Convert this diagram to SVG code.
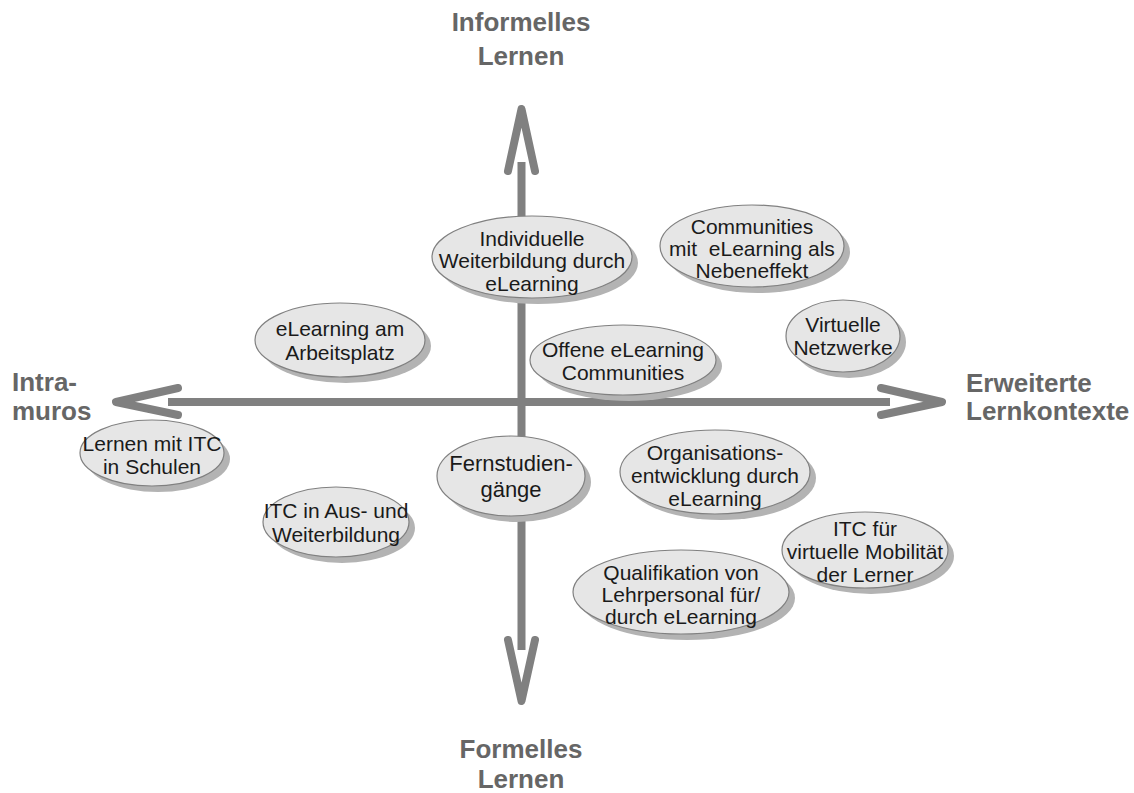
<svg xmlns="http://www.w3.org/2000/svg" width="1134" height="793" viewBox="0 0 1134 793">
  <style>
    .axis { stroke: #808080; stroke-width: 8; fill: none; }
    .head { stroke: #808080; stroke-width: 8; fill: none; stroke-linecap: round; stroke-linejoin: round; }
    .shadow { fill: #b3b3b3; }
    .bubble { fill: #e6e6e6; stroke: #808080; stroke-width: 1.2; }
    .lbl { font-family: "Liberation Sans", Arial, sans-serif; font-size: 21px; fill: #1a1a1a; text-anchor: middle; }
    .ax { font-family: "Liberation Sans", Arial, sans-serif; font-size: 26px; font-weight: bold; fill: #666666; }
  </style>
  <rect width="1134" height="793" fill="#ffffff"/>

  <!-- axes with open chevron heads -->
  <g id="connectors">
    <line class="axis" x1="521.5" y1="162" x2="521.5" y2="650"/>
    <line class="axis" x1="168" y1="402" x2="890" y2="402"/>
    <polyline class="head" points="508,171 521.5,109 535,171"/>
    <polyline class="head" points="508,640 521.5,701 535,640"/>
    <polyline class="head" points="178,388 116,402 178,415"/>
    <polyline class="head" points="881,388 942,402 881,415"/>
  </g>

  <!-- axis captions -->
  <g id="axis-labels">
    <text class="ax" text-anchor="middle" x="521" y="31">Informelles</text>
    <text class="ax" text-anchor="middle" x="521" y="65">Lernen</text>
    <text class="ax" text-anchor="middle" x="521" y="758">Formelles</text>
    <text class="ax" text-anchor="middle" x="521" y="788">Lernen</text>
    <text class="ax" x="12" y="391">Intra-</text>
    <text class="ax" x="12" y="420">muros</text>
    <text class="ax" x="966" y="392">Erweiterte</text>
    <text class="ax" x="966" y="420">Lernkontexte</text>
  </g>

  <g id="individuelle-weiterbildung">
    <ellipse class="shadow" cx="538" cy="263" rx="100" ry="41"/>
    <ellipse class="bubble" cx="532" cy="257" rx="100" ry="41"/>
    <text class="lbl"><tspan x="532" y="246">Individuelle</tspan><tspan x="532" y="268">Weiterbildung durch</tspan><tspan x="532" y="291">eLearning</tspan></text>
  </g>

  <g id="communities-nebeneffekt">
    <ellipse class="shadow" cx="758" cy="252" rx="92" ry="41"/>
    <ellipse class="bubble" cx="752" cy="246" rx="92" ry="41"/>
    <text class="lbl"><tspan x="752" y="234">Communities</tspan><tspan x="752" y="256">mit&#160; eLearning als</tspan><tspan x="752" y="278">Nebeneffekt</tspan></text>
  </g>

  <g id="elearning-arbeitsplatz">
    <ellipse class="shadow" cx="346" cy="346" rx="85" ry="37"/>
    <ellipse class="bubble" cx="340" cy="340" rx="85" ry="37"/>
    <text class="lbl"><tspan x="340" y="336">eLearning am</tspan><tspan x="340" y="360">Arbeitsplatz</tspan></text>
  </g>

  <g id="offene-communities">
    <ellipse class="shadow" cx="629" cy="366" rx="93" ry="35"/>
    <ellipse class="bubble" cx="623" cy="360" rx="93" ry="35"/>
    <text class="lbl"><tspan x="623" y="357">Offene eLearning</tspan><tspan x="623" y="380">Communities</tspan></text>
  </g>

  <g id="virtuelle-netzwerke">
    <ellipse class="shadow" cx="849" cy="342" rx="57" ry="36"/>
    <ellipse class="bubble" cx="843" cy="336" rx="57" ry="36"/>
    <text class="lbl"><tspan x="843" y="332">Virtuelle</tspan><tspan x="843" y="355">Netzwerke</tspan></text>
  </g>

  <g id="lernen-schulen">
    <ellipse class="shadow" cx="158" cy="459" rx="72" ry="33"/>
    <ellipse class="bubble" cx="152" cy="453" rx="72" ry="33"/>
    <text class="lbl"><tspan x="152" y="451">Lernen mit ITC</tspan><tspan x="152" y="474">in Schulen</tspan></text>
  </g>

  <g id="fernstudiengaenge">
    <ellipse class="shadow" cx="517" cy="482" rx="74" ry="40"/>
    <ellipse class="bubble" cx="511" cy="476" rx="74" ry="40"/>
    <text class="lbl" style="font-size:22px"><tspan x="511" y="471">Fernstudien-</tspan><tspan x="511" y="497">gänge</tspan></text>
  </g>

  <g id="organisationsentwicklung">
    <ellipse class="shadow" cx="721" cy="478" rx="95" ry="42"/>
    <ellipse class="bubble" cx="715" cy="472" rx="95" ry="42"/>
    <text class="lbl"><tspan x="715" y="460">Organisations-</tspan><tspan x="715" y="483">entwicklung durch</tspan><tspan x="715" y="506">eLearning</tspan></text>
  </g>

  <g id="itc-aus-weiterbildung">
    <ellipse class="shadow" cx="342" cy="528" rx="73" ry="35"/>
    <ellipse class="bubble" cx="336" cy="522" rx="73" ry="35"/>
    <text class="lbl"><tspan x="336" y="518">ITC in Aus- und</tspan><tspan x="336" y="542">Weiterbildung</tspan></text>
  </g>

  <g id="itc-mobilitaet">
    <ellipse class="shadow" cx="871" cy="556" rx="83" ry="38"/>
    <ellipse class="bubble" cx="865" cy="550" rx="83" ry="38"/>
    <text class="lbl"><tspan x="865" y="536">ITC für</tspan><tspan x="865" y="559">virtuelle Mobilität</tspan><tspan x="865" y="582">der Lerner</tspan></text>
  </g>

  <g id="qualifikation-lehrpersonal">
    <ellipse class="shadow" cx="687" cy="598" rx="108" ry="42"/>
    <ellipse class="bubble" cx="681" cy="592" rx="108" ry="42"/>
    <text class="lbl"><tspan x="681" y="580">Qualifikation von</tspan><tspan x="681" y="602">Lehrpersonal für/</tspan><tspan x="681" y="624">durch eLearning</tspan></text>
  </g>
</svg>
